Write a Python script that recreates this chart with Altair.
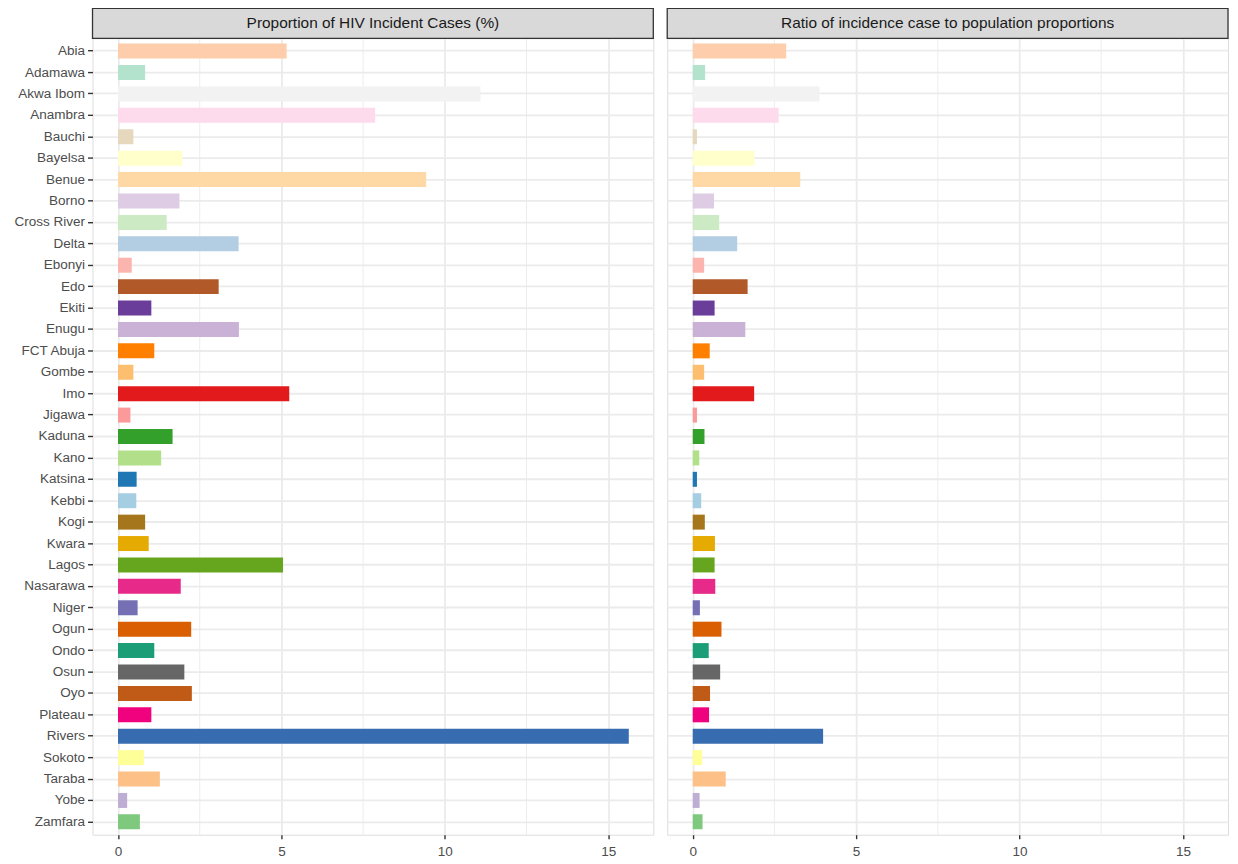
import altair as alt
import pandas as pd

states = ["Abia", "Adamawa", "Akwa Ibom", "Anambra", "Bauchi", "Bayelsa", "Benue", "Borno",
          "Cross River", "Delta", "Ebonyi", "Edo", "Ekiti", "Enugu", "FCT Abuja", "Gombe",
          "Imo", "Jigawa", "Kaduna", "Kano", "Katsina", "Kebbi", "Kogi", "Kwara", "Lagos",
          "Nasarawa", "Niger", "Ogun", "Ondo", "Osun", "Oyo", "Plateau", "Rivers", "Sokoto",
          "Taraba", "Yobe", "Zamfara"]

proportion = [5.16, 0.83, 11.09, 7.87, 0.47, 1.97, 9.43, 1.88,
              1.49, 3.69, 0.42, 3.08, 1.02, 3.70, 1.11, 0.47,
              5.24, 0.38, 1.67, 1.32, 0.57, 0.56, 0.83, 0.94, 5.05,
              1.92, 0.60, 2.24, 1.11, 2.03, 2.26, 1.02, 15.63, 0.79,
              1.28, 0.28, 0.67]

ratio = [2.86, 0.38, 3.88, 2.63, 0.13, 1.89, 3.29, 0.65,
         0.81, 1.36, 0.35, 1.68, 0.67, 1.61, 0.52, 0.35,
         1.88, 0.13, 0.36, 0.20, 0.13, 0.26, 0.37, 0.68, 0.67,
         0.69, 0.22, 0.88, 0.49, 0.84, 0.53, 0.50, 3.99, 0.29,
         1.01, 0.21, 0.30]

colors = ["#FDCDAC", "#B3E2CD", "#F2F2F2", "#FDDAEC", "#E5D8BD", "#FFFFCC", "#FED9A6", "#DECBE4",
          "#CCEBC5", "#B3CDE3", "#FBB4AE", "#B15928", "#6A3D9A", "#CAB2D6", "#FF7F00", "#FDBF6F",
          "#E31A1C", "#FB9A99", "#33A02C", "#B2DF8A", "#1F78B4", "#A6CEE3", "#A6761D", "#E6AB02",
          "#66A61E", "#E7298A", "#7570B3", "#D95F02", "#1B9E77", "#666666", "#BF5B17", "#F0027F",
          "#386CB0", "#FFFF99", "#FDC086", "#BEAED4", "#7FC97F"]

panel_titles = ["Proportion of HIV Incident Cases (%)",
                "Ratio of incidence case to population proportions"]
major_ticks = [0, 5, 10, 15]
minor_ticks = [2.5, 7.5, 12.5]

W = 564
H = 801
STRIP = 30
FONT = "Liberation Sans"
GRID = "#EBEBEB"

xscale = alt.Scale(domain=[-0.78, 16.38], nice=False, zero=False)


def panel(values, title, show_labels):
    df = pd.DataFrame({"state": states, "value": values})
    if show_labels:
        yaxis = alt.Axis(title=None, labelFontSize=13.6, labelColor="#4D4D4D", labelFont=FONT,
                         tickColor="#333333", tickSize=5, tickWidth=1.4, labelPadding=3,
                         domain=False, grid=True, gridColor=GRID, gridWidth=1.8, bandPosition=0.5)
    else:
        yaxis = alt.Axis(title=None, labels=False, ticks=False, domain=False, grid=True,
                         gridColor=GRID, gridWidth=1.8, bandPosition=0.5)
    xaxis = alt.Axis(title=None, values=major_ticks, labelFontSize=13.6, labelColor="#4D4D4D",
                     labelFont=FONT, tickColor="#333333", tickSize=4, tickWidth=1.4,
                     labelPadding=6, domain=False, grid=True, gridColor=GRID, gridWidth=1.8)
    minor = alt.Chart(pd.DataFrame({"m": minor_ticks})).mark_rule(
        color=GRID, strokeWidth=0.9
    ).encode(x=alt.X("m:Q", scale=xscale, axis=xaxis))
    bars = alt.Chart(df).mark_bar().encode(
        y=alt.Y("state:N", sort=states, axis=yaxis,
                scale=alt.Scale(paddingInner=0.3, paddingOuter=0.25)),
        x=alt.X("value:Q", scale=xscale, axis=xaxis),
        color=alt.Color("state:N", scale=alt.Scale(domain=states, range=colors), legend=None),
    )
    tdf = pd.DataFrame({"t": [title]})
    strip_rect = alt.Chart(tdf).mark_rect(
        fill="#D9D9D9", stroke="#333333", strokeWidth=1.3
    ).encode(x=alt.value(0), x2=alt.value(W), y=alt.value(-STRIP), y2=alt.value(0))
    strip_text = alt.Chart(tdf).mark_text(
        font=FONT, fontSize=15.5, color="#1A1A1A", align="center", baseline="middle"
    ).encode(x=alt.value(W / 2), y=alt.value(-STRIP / 2), text="t:N")
    return alt.layer(minor, bars, strip_rect, strip_text).properties(width=W, height=H)


chart = alt.hconcat(
    panel(proportion, panel_titles[0], True),
    panel(ratio, panel_titles[1], False),
    spacing=10,
).properties(
    padding={"left": 5, "top": -4, "right": 0, "bottom": 0}
).configure_view(
    stroke="#333333", strokeWidth=1.3
).configure(background="white")

chart.save("out.html", embed_options={"renderer": "svg", "actions": False})
